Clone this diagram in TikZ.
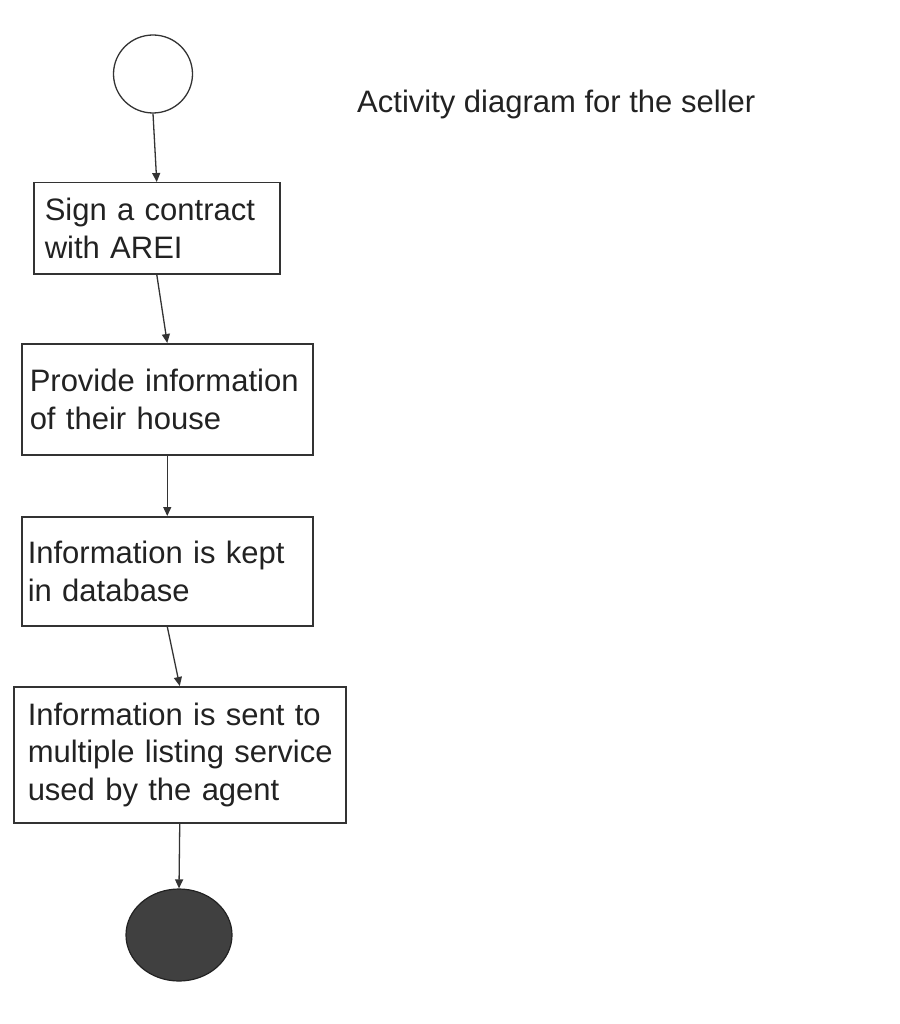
\documentclass[tikz,border=0pt]{standalone}
\usepackage{fontspec}
\setmainfont{Liberation Sans}
\usetikzlibrary{arrows.meta,shapes.geometric}
\definecolor{inkc}{HTML}{222222}
\definecolor{linec}{HTML}{333333}
\definecolor{endfill}{HTML}{404040}
\tikzset{
  every node/.style={text=inkc},
  txt/.style={font=\fontsize{31}{37.4}\selectfont},
  actbox/.style={draw=linec, line width=1.5pt, rectangle, txt, align=left,
     inner xsep=0pt, inner ysep=0pt, anchor=north west},
  flow/.style={draw=linec, line width=1.3pt, -{Triangle[length=9pt,width=8pt]}},
}
\begin{document}
\begin{tikzpicture}[x=1pt,y=-1pt]
\useasboundingbox (0,0) rectangle (899,1024);
\node[ellipse, draw=linec, line width=1.3pt, minimum width=79pt, minimum height=78pt, inner sep=0pt] (start) at (153,74) {};
\node[actbox, minimum width=246pt, minimum height=91pt, text width=224pt] (b1) at (33,182) {\mbox{Sign a contract}\\\mbox{with AREI}};
\node[actbox, minimum width=291pt, minimum height=111pt, text width=275pt] (b2) at (21,343) {\mbox{Provide information}\\\mbox{of their house}};
\node[actbox, minimum width=291pt, minimum height=109pt, text width=279pt] (b3) at (21,516) {\mbox{Information is kept}\\\mbox{in database}};
\node[actbox, minimum width=332pt, minimum height=136pt, text width=304pt] (b4) at (13,686) {\mbox{Information is sent to}\\\mbox{multiple listing service}\\\mbox{used by the agent}};
\node[ellipse, draw=inkc, line width=1.2pt, fill=endfill, minimum width=106pt, minimum height=92pt, inner sep=0pt] (stop) at (179,935) {};
\node[txt, anchor=base west, inner sep=0pt] (title) at (357,113) {Activity diagram for the seller};
\draw[flow] (start.south) -- (b1.north);
\draw[flow] (b1.south) -- (b2.north);
\draw[flow] (b2.south) -- (b3.north);
\draw[flow] (b3.south) -- (b4.north);
\draw[flow] (b4.south) -- (stop.north);
\end{tikzpicture}
\end{document}
